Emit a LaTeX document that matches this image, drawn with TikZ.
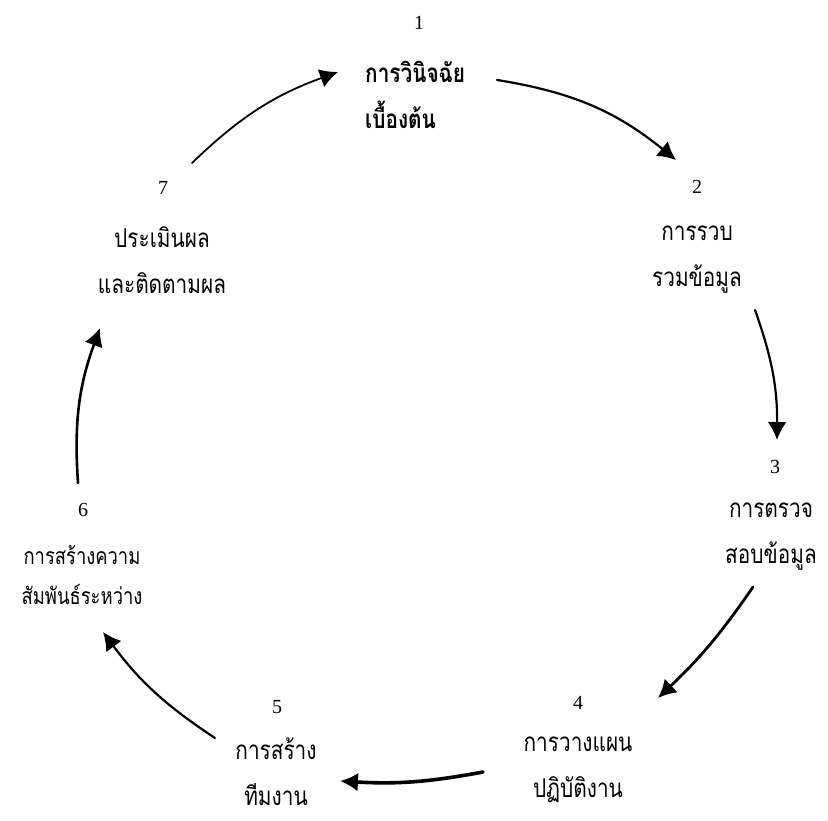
\documentclass[tikz,border=0pt]{standalone}
\usepackage{fontspec}
\setmainfont{Liberation Serif}
\newfontfamily\thaifont[Script=Thai,FakeStretch=0.8]{Loma}
\usetikzlibrary{arrows.meta}
\begin{document}
\begin{tikzpicture}[x=1pt,y=-1pt,
  num/.style={font=\fontsize{20}{20}\selectfont, inner sep=0pt},
  lbl/.style={font=\thaifont\fontsize{26}{46}\selectfont, align=center, inner sep=0pt},
  arr/.style={line width=2.2pt, -{Latex[length=18pt,width=19pt]}, line cap=round},
]
\useasboundingbox (0,0) rectangle (828,821);
% numbers
\node[num] (k1) at (419,23) {1};
\node[num] (k2) at (697,187) {2};
\node[num] (k3) at (775,467) {3};
\node[num] (k4) at (578,703) {4};
\node[num] (k5) at (277,707) {5};
\node[num] (k6) at (83,510) {6};
\node[num] (k7) at (163,188) {7};
% labels
\node[lbl, align=left, anchor=west, font=\thaifont\bfseries\fontsize{26}{46}\selectfont] (n1) at (365,95) {การวินิจฉัย\\เบื้องต้น};
\node[lbl] (n2) at (697,260) {การรวบ\\รวมข้อมูล};
\node[lbl] (n3) at (771,537) {การตรวจ\\สอบข้อมูล};
\node[lbl] (n4) at (578,770) {การวางแผน\\ปฏิบัติงาน};
\node[lbl] (n5) at (276,772) {การสร้าง\\ทีมงาน};
\node[lbl, font=\thaifont\fontsize{23}{40}\selectfont] (n6) at (82,575) {การสร้างความ\\สัมพันธ์ระหว่าง};
\node[lbl] (n7) at (162,260) {ประเมินผล\\และติดตามผล};
% connector ends
\coordinate (s71) at (192,163); \coordinate (e71) at (338,72);
\coordinate (s12) at (497,80);  \coordinate (e12) at (676,160);
\coordinate (s23) at (755,310); \coordinate (e23) at (777,440);
\coordinate (s34) at (753,587); \coordinate (e34) at (658,698);
\coordinate (s45) at (483,772); \coordinate (e45) at (340,781);
\coordinate (s56) at (215,738); \coordinate (e56) at (103,632);
\coordinate (s67) at (78,483);  \coordinate (e67) at (100,328);
% connectors
\draw[arr, line width=1.8pt] (s71) to[bend left=12] (e71);
\draw[arr] (s12) to[bend left=15] (e12);
\draw[arr] (s23) to[bend left=10] (e23);
\draw[arr, line width=2.8pt] (s34) to[bend left=6] (e34);
\draw[arr, line width=3.6pt] (s45) to[bend left=7] (e45);
\draw[arr] (s56) to[bend left=10] (e56);
\draw[arr, line width=2.6pt] (s67) to[bend left=12] (e67);
\end{tikzpicture}
\end{document}
